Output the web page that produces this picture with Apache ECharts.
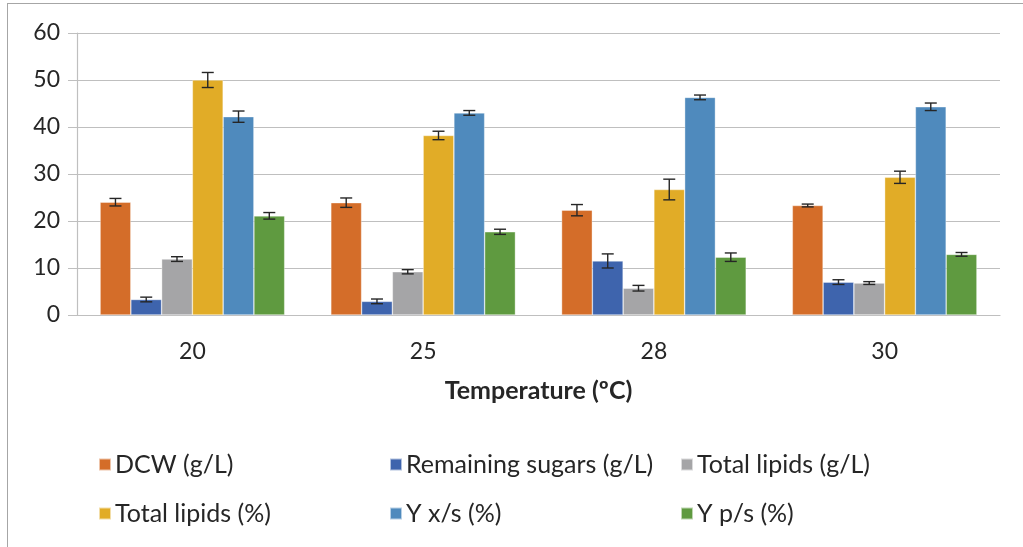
<!DOCTYPE html>
<html><head><meta charset="utf-8">
<script src="https://cdn.jsdelivr.net/npm/echarts@6/dist/echarts.min.js"></script>
<style>html,body{margin:0;padding:0;background:#fff}#c{width:1023px;height:547px}</style>
</head><body><div id="c"></div>
<script>
const categories = ['20', '25', '28', '30'];
const seriesNames = ['DCW (g/L)', 'Remaining sugars (g/L)', 'Total lipids (g/L)', 'Total lipids (%)', 'Y x/s (%)', 'Y p/s (%)'];
const dcw = [24.0, 23.9, 22.3, 23.3];
const sugars = [3.3, 2.9, 11.5, 7.0];
const lipidsGL = [11.9, 9.2, 5.7, 6.8];
const lipidsPct = [50.0, 38.2, 26.7, 29.3];
const yxs = [42.2, 43.0, 46.3, 44.3];
const yps = [21.1, 17.7, 12.3, 12.9];
const dcwErr = [0.8, 1.0, 1.2, 0.3];
const sugarsErr = [0.5, 0.5, 1.5, 0.5];
const lipidsGLErr = [0.5, 0.45, 0.6, 0.3];
const lipidsPctErr = [1.6, 0.9, 2.2, 1.3];
const yxsErr = [1.2, 0.5, 0.5, 0.8];
const ypsErr = [0.7, 0.55, 0.9, 0.4];
const yTicks = [0, 10, 20, 30, 40, 50, 60];

const values = [dcw, sugars, lipidsGL, lipidsPct, yxs, yps];
const errors = [dcwErr, sugarsErr, lipidsGLErr, lipidsPctErr, yxsErr, ypsErr];
const colors = ['#D46D29', '#3E64AD', '#A5A5A7', '#E1AC27', '#4F8ABD', '#5F9A40'];
const font = 'Lato, "Open Sans", sans-serif';
const txt = '#262626';
const nS = seriesNames.length;
const catGap = 0.2;

const series = [];
values.forEach((v, i) => {
  series.push({
    name: seriesNames[i], type: 'bar', data: v, barGap: 0, barCategoryGap: '20%',
    itemStyle: { color: colors[i], borderColor: 'rgba(255,255,255,0.6)', borderWidth: 0.6 },
    z: 2
  });
});
values.forEach((v, i) => {
  series.push({
    type: 'custom', name: seriesNames[i] + ' err', z: 5,
    data: v.map((val, j) => [j, val, errors[i][j]]),
    encode: { x: 0, y: 1 },
    renderItem: function (params, api) {
      const j = api.value(0), val = api.value(1), e = api.value(2);
      const band = api.size([1, 0])[0];
      const bw = band * (1 - catGap) / nS;
      const cx = api.coord([j, val])[0] + (i - (nS - 1) / 2) * bw;
      const yHi = api.coord([j, val + e])[1];
      const yLo = api.coord([j, val - e])[1];
      const cap = 6;
      const st = { stroke: '#262626', lineWidth: 1.4 };
      return { type: 'group', children: [
        { type: 'line', shape: { x1: cx, y1: yHi, x2: cx, y2: yLo }, style: st },
        { type: 'line', shape: { x1: cx - cap, y1: yHi, x2: cx + cap, y2: yHi }, style: st },
        { type: 'line', shape: { x1: cx - cap, y1: yLo, x2: cx + cap, y2: yLo }, style: st }
      ]};
    }
  });
});

const legendCols = [[0, 3], [1, 4], [2, 5]];
const legendLefts = [93, 384, 675];
const legends = legendCols.map((idx, k) => ({
  orient: 'vertical', left: legendLefts[k], top: 447, itemGap: 24,
  itemWidth: 12, itemHeight: 12, icon: 'rect',
  data: idx.map(n => seriesNames[n]),
  textStyle: { fontFamily: font, fontSize: 25, color: txt, padding: [0, 0, 0, -1] }
}));

const chart = echarts.init(document.getElementById('c'), null, { renderer: 'canvas' });
chart.setOption({
  animation: false,
  color: colors,
  graphic: [
    { type: 'line', shape: { x1: 7, y1: 3.5, x2: 1023, y2: 3.5 }, style: { stroke: '#A6A6A6', lineWidth: 1 } },
    { type: 'line', shape: { x1: 7.5, y1: 3, x2: 7.5, y2: 547 }, style: { stroke: '#A6A6A6', lineWidth: 1 } }
  ],
  legend: legends,
  grid: { left: 77, right: 23, top: 33, bottom: 232, containLabel: false },
  xAxis: {
    type: 'category', data: categories,
    name: 'Temperature (ºC)', nameLocation: 'middle', nameGap: 63,
    nameTextStyle: { fontFamily: font, fontSize: 25, fontWeight: 'bold', color: txt },
    axisLine: { lineStyle: { color: '#BFBFBF', width: 1.2 } },
    axisTick: { show: false },
    axisLabel: { fontFamily: font, fontSize: 23, color: txt, margin: 25 }
  },
  yAxis: {
    type: 'value', min: 0, max: 60, interval: 10,
    axisLine: { show: true, lineStyle: { color: '#BFBFBF', width: 1.2 } },
    axisTick: { show: true, inside: false, length: 9, lineStyle: { color: '#BFBFBF' } },
    axisLabel: { fontFamily: font, fontSize: 23, color: txt, margin: 17,
      formatter: v => yTicks.includes(v) ? String(v) : '' },
    splitLine: { lineStyle: { color: '#BFBFBF', width: 1.2 } }
  },
  series: series
});
</script></body></html>
